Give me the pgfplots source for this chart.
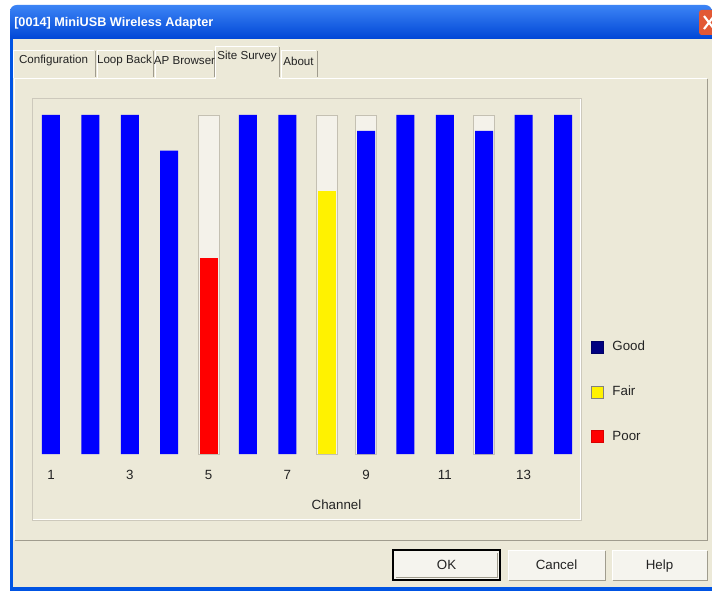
\documentclass[border=0pt]{standalone}
\usepackage{fontspec}
\setmainfont{Liberation Sans}
\usepackage{pgfplots}
\pgfplotsset{compat=1.18}

\definecolor{xpbeige}{RGB}{236,233,216}
\definecolor{xpblue}{RGB}{0,84,227}
\definecolor{titletop}{RGB}{60,132,245}
\definecolor{titlebot}{RGB}{0,70,214}
\definecolor{closered}{RGB}{226,88,52}
\definecolor{barblue}{RGB}{0,0,255}
\definecolor{navy}{RGB}{0,0,128}
\definecolor{trackfill}{RGB}{244,242,234}
\definecolor{trackline}{RGB}{196,192,178}
\definecolor{framegray}{RGB}{205,201,188}
\definecolor{edgegray}{RGB}{160,156,142}
\definecolor{txt}{RGB}{35,35,35}
\definecolor{btnface}{RGB}{245,244,238}

% signal level per channel, 1 = full bar
\pgfplotstableread{
ch lvl
1  1
2  1
3  1
4  0.895
6  1
7  1
9  0.953
10 1
11 1
12 0.953
13 1
14 1
}\good
\pgfplotstableread{
ch lvl
8 0.775
}\fair
\pgfplotstableread{
ch lvl
5 0.577
}\poor
% empty tracks shown behind bars that are not full
\pgfplotstableread{
ch lvl
5  1
8  1
9  1
12 1
}\track

\newcommand\ui{\fontsize{10}{12}\selectfont}
\newcommand\tabfont{\fontsize{8.7}{10.5}\selectfont}

\begin{document}
\begin{tikzpicture}
\path[clip] (0,0) rectangle (534pt,-443.25pt);
\useasboundingbox (0,0) rectangle (534pt,-443.25pt);

% window chrome, in pixels from the top left
\begin{scope}[x=0.75pt,y=-0.75pt]
  \fill[white] (0,0) rectangle (712,591);
  \fill[xpbeige] (10,30) rectangle (712,591);
  \shade[top color=titletop, bottom color=titlebot]
    (10,39) -- (10,12) [rounded corners=5pt] -- (10,5) -- (712,5) [sharp corners] -- (712,39) -- cycle;
  \fill[xpblue] (10,39) rectangle (13,591);
  \fill[xpblue] (10,587) rectangle (712,591);
  \node[anchor=west, text=white, inner sep=0pt, font=\bfseries\fontsize{9.5}{11}\selectfont]
    at (14,23) {[0014] MiniUSB Wireless Adapter};
  \fill[closered, rounded corners=2pt] (699,10) rectangle (720,35);
  \draw[white, line width=1.6pt] (704,16) -- (714,29) (714,16) -- (704,29);

  % tabs
  \foreach \a/\b in {12/95, 96/153, 154/214, 280/317}{
    \draw[white] (\a+1,78) -- (\a+1,50) -- (\b-1,50);
    \draw[edgegray] (\b,51) -- (\b,77);
  }
  \fill[xpbeige] (215,46) rectangle (279,79);
  \draw[white] (215,79) -- (215,46) -- (278,46);
  \draw[edgegray] (279,47) -- (279,77);
  \node[txt, font=\tabfont, inner sep=0pt] at (53.5,61) {Configuration};
  \node[txt, font=\tabfont, inner sep=0pt] at (124.5,61) {Loop Back};
  \node[txt, font=\tabfont, inner sep=0pt] at (184.5,61) {AP Browser};
  \node[txt, font=\tabfont, inner sep=0pt] at (247,57) {Site Survey};
  \node[txt, font=\tabfont, inner sep=0pt] at (298.5,61) {About};

  % tab panel
  \draw[white] (14,540) -- (14,78) -- (215,78) (279,78) -- (707,78);
  \draw[edgegray] (707,79) -- (707,540) -- (15,540);

  % chart frame
  \draw[framegray] (32,98) rectangle (581,520);
  \draw[white] (33,519) -- (580,519) -- (580,99);

  \coordinate (axorig) at (31.3,454);
\end{scope}

\begin{axis}[
    at={(axorig)}, anchor=south west,
    scale only axis,
    width=413.55pt, height=254.25pt,
    xmin=0.5, xmax=14.5,
    ymin=0, ymax=1,
    clip=false,
    axis line style={draw=none},
    major tick length=0pt,
    ytick=\empty,
    xtick={1,3,...,13},
    /pgf/number format/assume math mode=true,
    xticklabel style={font=\ui, text=txt, yshift=-8.7pt},
    xlabel={Channel},
    xlabel style={at={(rel axis cs:0.5535,0)}, anchor=north, font=\ui, text=txt, yshift=-31pt},
    legend image code/.code={\draw[#1] (0pt,-4.5pt) rectangle (9pt,4.5pt);},
    legend style={
      at={(rel axis cs:1.015,0.340)}, anchor=north west,
      draw=none, fill=none, inner sep=0pt, row sep=22pt, column sep=5pt,
      nodes={font=\ui, text=txt, inner sep=1.5pt}
    },
    legend cell align=left,
]
  \addplot[ybar, bar shift=0pt, bar width=0.533, fill=trackfill, draw=trackline, forget plot]
    table[x=ch, y=lvl] {\track};
  \addplot[ybar, bar shift=0pt, bar width=0.457, fill=barblue, draw=none, forget plot]
    table[x=ch, y=lvl] {\good};
  \addplot[ybar, bar shift=0pt, bar width=0.457, fill=yellow, draw=none, forget plot]
    table[x=ch, y=lvl] {\fair};
  \addplot[ybar, bar shift=0pt, bar width=0.457, fill=red, draw=none, forget plot]
    table[x=ch, y=lvl] {\poor};

  \addlegendimage{fill=navy, draw=navy!80!black}
  \addlegendentry{Good}
  \addlegendimage{fill=yellow, draw=gray}
  \addlegendentry{Fair}
  \addlegendimage{fill=red, draw=red!85!black}
  \addlegendentry{Poor}
\end{axis}

% dialog buttons
\begin{scope}[x=0.75pt,y=-0.75pt]
  \fill[btnface] (394,551) rectangle (499,579);
  \draw[black, line width=1pt] (393,550) rectangle (500,580);
  \draw[edgegray] (396,577) -- (497,577) -- (497,553);
  \node[txt, font=\ui, anchor=base] at (446.5,569.5) {OK};
  \foreach \a/\b/\t in {508/605/Cancel, 612/707/Help}{
    \fill[btnface] (\a,550) rectangle (\b,580);
    \draw[white] (\a,580) -- (\a,550) -- (\b,550);
    \draw[edgegray] (\a+1,580) -- (\b,580) -- (\b,551);
    \node[txt, font=\ui, anchor=base] at ({(\a+\b)/2},569.5) {\t};
  }
\end{scope}
\end{tikzpicture}
\end{document}
